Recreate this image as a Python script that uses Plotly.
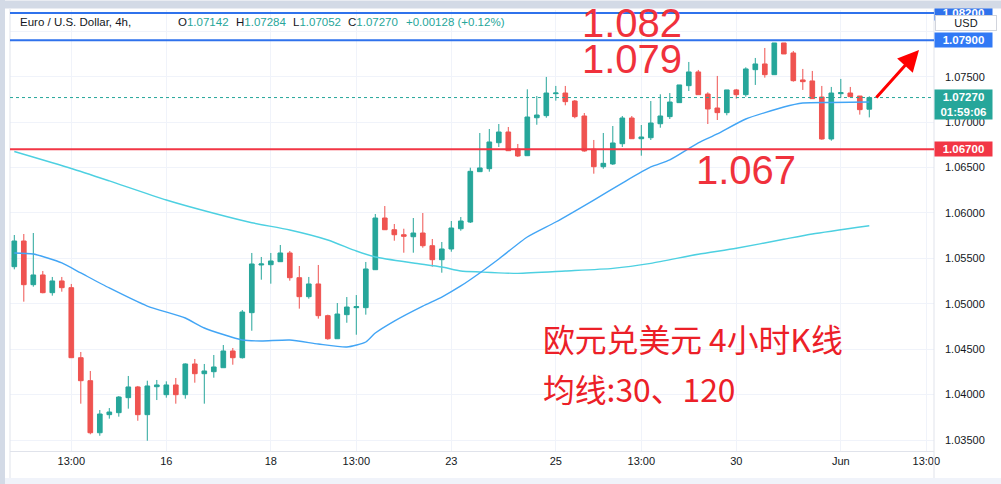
import plotly.graph_objects as go

# ---------------- data ----------------
idx = list(range(91))
opens = [1.05408, 1.05691, 1.05210, 1.05317, 1.05122, 1.05251, 1.05177, 1.04406, 1.04153, 1.03580,
         1.03779, 1.03801, 1.03966, 1.04084, 1.03779, 1.04087, 1.03999, 1.04106, 1.03999, 1.04337,
         1.04230, 1.04252, 1.04296, 1.04480, 1.04406, 1.04902, 1.05427, 1.05430, 1.05463, 1.05559,
         1.05287, 1.05078, 1.05218, 1.04869, 1.04615, 1.04880, 1.04957, 1.04957, 1.05375, 1.05944,
         1.05815, 1.05760, 1.05738, 1.05779, 1.05639, 1.05485, 1.05603, 1.05826, 1.05900, 1.06454,
         1.06487, 1.06773, 1.06891, 1.06704, 1.06630, 1.07048, 1.07071, 1.07313, 1.07320, 1.07232,
         1.07067, 1.06701, 1.06509, 1.06539, 1.06762, 1.07045, 1.06817, 1.06828, 1.06982, 1.07060,
         1.07214, 1.07401, 1.07552, 1.07309, 1.07155, 1.07104, 1.07354, 1.07302, 1.07577, 1.07640,
         1.07522, 1.07871, 1.07761, 1.07464, 1.07453, 1.07276, 1.06814, 1.07313, 1.07320, 1.07287,
         1.07142]
highs = [1.05757, 1.05768, 1.05779, 1.05361, 1.05295, 1.05295, 1.05218, 1.04469, 1.04260, 1.03830,
         1.03852, 1.03984, 1.04205, 1.04095, 1.04153, 1.04161, 1.04146, 1.04183, 1.04344, 1.04392,
         1.04337, 1.04436, 1.04546, 1.04513, 1.04931, 1.05559, 1.05515, 1.05559, 1.05647, 1.05581,
         1.05416, 1.05295, 1.05427, 1.04880, 1.05008, 1.05074, 1.05096, 1.05460, 1.05988, 1.06076,
         1.05878, 1.05826, 1.05944, 1.05999, 1.05713, 1.05680, 1.05911, 1.05955, 1.06498, 1.06880,
         1.06924, 1.06979, 1.06946, 1.06759, 1.07361, 1.07287, 1.07497, 1.07398, 1.07398, 1.07243,
         1.07100, 1.06803, 1.06880, 1.06957, 1.07067, 1.07067, 1.06968, 1.07232, 1.07306, 1.07320,
         1.07409, 1.07662, 1.07574, 1.07328, 1.07508, 1.07354, 1.07365, 1.07603, 1.07706, 1.07816,
         1.07871, 1.07871, 1.07783, 1.07585, 1.07563, 1.07398, 1.07387, 1.07475, 1.07387, 1.07287,
         1.07284]
lows = [1.05379, 1.05023, 1.05188, 1.05115, 1.05089, 1.05133, 1.04403, 1.03900, 1.03563, 1.03547,
        1.03735, 1.03757, 1.03845, 1.03712, 1.03492, 1.03940, 1.03966, 1.03900, 1.03955, 1.04131,
        1.03900, 1.04186, 1.04296, 1.04329, 1.04397, 1.04703, 1.05265, 1.05221, 1.05460, 1.05254,
        1.04946, 1.05056, 1.04836, 1.04604, 1.04612, 1.04791, 1.04659, 1.04880, 1.05372, 1.05812,
        1.05694, 1.05562, 1.05562, 1.05617, 1.05408, 1.05342, 1.05573, 1.05804, 1.05889, 1.06451,
        1.06454, 1.06726, 1.06682, 1.06616, 1.06627, 1.06971, 1.07048, 1.07236, 1.07185, 1.07042,
        1.06674, 1.06432, 1.06487, 1.06528, 1.06726, 1.06814, 1.06630, 1.06803, 1.06938, 1.07034,
        1.07214, 1.07342, 1.07302, 1.06979, 1.07023, 1.07075, 1.07258, 1.07280, 1.07409, 1.07489,
        1.07522, 1.07750, 1.07445, 1.07354, 1.07258, 1.06806, 1.06795, 1.07269, 1.07280, 1.07082,
        1.07052]
closes = [1.05691, 1.05210, 1.05317, 1.05122, 1.05251, 1.05177, 1.04406, 1.04153, 1.03580, 1.03786,
          1.03808, 1.03973, 1.04084, 1.03779, 1.04095, 1.04106, 1.04106, 1.03999, 1.04337, 1.04230,
          1.04260, 1.04304, 1.04480, 1.04406, 1.04909, 1.05438, 1.05438, 1.05471, 1.05559, 1.05287,
          1.05078, 1.05218, 1.04869, 1.04615, 1.04887, 1.04964, 1.04968, 1.05383, 1.05944, 1.05815,
          1.05760, 1.05743, 1.05779, 1.05639, 1.05485, 1.05603, 1.05834, 1.05911, 1.06458, 1.06495,
          1.06781, 1.06891, 1.06685, 1.06627, 1.07056, 1.07078, 1.07320, 1.07320, 1.07225, 1.07060,
          1.06682, 1.06509, 1.06546, 1.06770, 1.07045, 1.06817, 1.06836, 1.06990, 1.07067, 1.07221,
          1.07409, 1.07552, 1.07302, 1.07144, 1.07104, 1.07354, 1.07302, 1.07585, 1.07640, 1.07522,
          1.07871, 1.07750, 1.07456, 1.07445, 1.07258, 1.06814, 1.07320, 1.07324, 1.07280, 1.07137,
          1.07270]

ma30_idx = [0, 2, 5, 7, 10, 14, 18, 20, 24, 26, 29, 32, 35, 37, 38, 40, 43, 45, 47, 49, 51, 54,
            57, 61, 64, 67, 69, 72, 74, 77, 81, 83, 86, 90]
ma30 = [1.05559, 1.05548, 1.05449, 1.05339, 1.05174, 1.04975, 1.04843, 1.04733, 1.04601, 1.04590,
        1.04601, 1.04557, 1.04524, 1.04579, 1.04678, 1.04810, 1.04975, 1.05074, 1.05196, 1.05339,
        1.05493, 1.05735, 1.05900, 1.06142, 1.06329, 1.06506, 1.06583, 1.06770, 1.06869, 1.07034,
        1.07166, 1.07210, 1.07216, 1.07221]
ma120_idx = [0, 6, 10, 16, 21, 25, 29, 33, 36, 38, 42, 45, 47, 49, 53, 58, 63, 67, 72, 76, 81, 84, 90]
ma120 = [1.06676, 1.06489, 1.06352, 1.06142, 1.05996, 1.05892, 1.05812, 1.05702, 1.05581, 1.05515,
         1.05449, 1.05405, 1.05361, 1.05350, 1.05335, 1.05361, 1.05390, 1.05445, 1.05545, 1.05611,
         1.05710, 1.05768, 1.05859]

xtick_idx = [6, 16, 27, 36, 46, 57, 66, 76, 87, 96]
xtick_text = ["13:00", "16", "18", "13:00", "23", "25", "13:00", "30", "Jun", "13:00"]
ytick_vals = [1.035, 1.040, 1.045, 1.050, 1.055, 1.060, 1.065, 1.070, 1.075, 1.080]
ytick_text = ["1.03500", "1.04000", "1.04500", "1.05000", "1.05500", "1.06000", "1.06500",
              "1.07000", "1.07500", ""]

level_top = 1.082
level_res = 1.079
level_sup = 1.067
last_price = 1.07270
ohlc_text = ["1.07142", "1.07284", "1.07052", "1.07270"]
change_text = "+0.00128 (+0.12%)"

# ---------------- layout helpers ----------------
W, H = 1001, 484
ML, MR, MT, MB = 10, 67, 10, 33
PW, PH = W - ML - MR, H - MT - MB


def px(xp):
    return (xp - ML) / PW


def py(yp):
    return (H - MB - yp) / PH


GREEN = "#26a69a"
RED = "#ef5350"
BLUE = "#2f72ec"
LRED = "#f23645"
TXT = "#131722"
GRID = "#f0f3fa"
FONT = "Liberation Sans, Arial, sans-serif"

fig = go.Figure()
fig.add_trace(go.Scatter(x=ma120_idx, y=ma120, mode="lines",
                         line=dict(color="#4dd0e1", width=1.4, shape="spline", smoothing=0.6),
                         hoverinfo="skip"))
fig.add_trace(go.Scatter(x=ma30_idx, y=ma30, mode="lines",
                         line=dict(color="#42a5f5", width=1.4, shape="spline", smoothing=0.6),
                         hoverinfo="skip"))
fig.add_trace(go.Candlestick(
    x=idx, open=opens, high=highs, low=lows, close=closes,
    increasing=dict(line=dict(color=GREEN, width=1), fillcolor=GREEN),
    decreasing=dict(line=dict(color=RED, width=1), fillcolor=RED),
    whiskerwidth=0, hoverinfo="skip"))

shapes = []
# page borders
shapes.append(dict(type="rect", xref="paper", yref="paper", x0=px(0), x1=px(5), y0=py(H), y1=py(0),
                   fillcolor="#d3dae6", line=dict(width=0), layer="above"))
shapes.append(dict(type="rect", xref="paper", yref="paper", x0=px(5), x1=px(W), y0=py(H), y1=py(478),
                   fillcolor="#f0f3fa", line=dict(width=0), layer="above"))
shapes.append(dict(type="line", xref="paper", yref="paper", x0=px(10), x1=px(10), y0=py(478), y1=py(9),
                   line=dict(color="#e0e3eb", width=1)))
shapes.append(dict(type="line", xref="paper", yref="paper", x0=px(934), x1=px(934), y0=py(478), y1=py(9),
                   line=dict(color="#e0e3eb", width=1)))
# horizontal levels
for lv, col in [(level_top, BLUE), (level_res, BLUE), (level_sup, LRED)]:
    shapes.append(dict(type="line", xref="paper", yref="y", x0=0, x1=1, y0=lv, y1=lv,
                       line=dict(color=col, width=2)))
shapes.append(dict(type="line", xref="paper", yref="y", x0=0, x1=1, y0=last_price, y1=last_price,
                   line=dict(color=GREEN, width=1, dash="dot")))

ann = []
# header
ann.append(dict(xref="paper", yref="paper", x=px(18), y=py(22), xanchor="left", yanchor="middle",
                text="Euro / U.S. Dollar, 4h,", showarrow=False, font=dict(family=FONT, size=11.5, color=TXT)))
for lab, val, xp in zip(["O", "H", "L", "C"], ohlc_text, [176, 234, 291, 346]):
    ann.append(dict(xref="paper", yref="paper", x=px(xp), y=py(22), xanchor="left", yanchor="middle",
                    text=f"{lab}<span style='color:{GREEN}'>{val}</span>", showarrow=False,
                    font=dict(family=FONT, size=11.5, color=TXT)))
ann.append(dict(xref="paper", yref="paper", x=px(404), y=py(22), xanchor="left", yanchor="middle",
                text=change_text, showarrow=False, font=dict(family=FONT, size=11.5, color=GREEN)))

# big red level labels
for t, xp, yp in [("1.082", 632, 23), ("1.079", 632, 59), ("1.067", 746, 170)]:
    ann.append(dict(xref="paper", yref="paper", x=px(xp), y=py(yp), xanchor="center", yanchor="middle",
                    text=t, showarrow=False, font=dict(family=FONT, size=40, color="#f0313c")))

# chinese text
ann.append(dict(xref="paper", yref="paper", x=px(541), y=py(338), xanchor="left", yanchor="middle",
                text="欧元兑美元 4小时K线", showarrow=False,
                font=dict(family="Noto Sans CJK SC", size=31.8, color="#ec2028")))
ann.append(dict(xref="paper", yref="paper", x=px(541), y=py(388), xanchor="left", yanchor="middle",
                text="均线:30、120", showarrow=False,
                font=dict(family="Noto Sans CJK SC", size=31.8, color="#ec2028")))

# arrow
ann.append(dict(xref="paper", yref="paper", x=px(919), y=py(50), ax=-44, ay=49, text="",
                showarrow=True, arrowhead=2, arrowsize=1.4, arrowwidth=3, arrowcolor="#ff0000"))

# price axis boxes
ann.append(dict(xref="paper", yref="y", x=px(934), y=level_top, xanchor="left", yanchor="middle",
                text="<b>1.08200</b>", showarrow=False, bgcolor=BLUE, width=55, borderpad=1,
                font=dict(family=FONT, size=11.5, color="white")))
ann.append(dict(xref="paper", yref="paper", x=px(0), y=py(0), xanchor="left", yanchor="top",
                text="", showarrow=False, bgcolor="#d3dae6", width=1001, height=7, borderpad=0))
ann.append(dict(xref="paper", yref="paper", x=px(935), y=py(15), xanchor="left", yanchor="top",
                text="USD", showarrow=False, bgcolor="white", bordercolor="#d1d4dc", borderwidth=1,
                width=58, borderpad=1, font=dict(family=FONT, size=11, color=TXT)))
ann.append(dict(xref="paper", yref="y", x=px(934), y=level_res, xanchor="left", yanchor="middle",
                text="<b>1.07900</b>", showarrow=False, bgcolor="#3179f5", width=55, borderpad=1,
                font=dict(family=FONT, size=11.5, color="white")))
ann.append(dict(xref="paper", yref="paper", x=px(934), y=py(89), xanchor="left", yanchor="top",
                text="<b>1.07270<br>01:59:06</b>", showarrow=False, bgcolor=GREEN, width=55, borderpad=1,
                font=dict(family=FONT, size=11.5, color="white")))
ann.append(dict(xref="paper", yref="y", x=px(934), y=level_sup, xanchor="left", yanchor="middle",
                text="<b>1.06700</b>", showarrow=False, bgcolor=LRED, width=55, borderpad=1,
                font=dict(family=FONT, size=11.5, color="white")))

fig.update_layout(
    width=W, height=H, margin=dict(l=ML, r=MR, t=MT, b=MB, pad=0),
    paper_bgcolor="white", plot_bgcolor="white", showlegend=False, hovermode=False,
    shapes=shapes, annotations=ann,
    xaxis=dict(range=[(10 - 14.3) / 9.5, (934 - 14.3) / 9.5], tickmode="array", tickvals=xtick_idx,
               ticktext=xtick_text, showgrid=True, gridcolor=GRID, gridwidth=1, zeroline=False,
               showline=True, linecolor="#e0e3eb", linewidth=1, ticks="", rangeslider=dict(visible=False),
               tickfont=dict(family=FONT, size=11, color=TXT), fixedrange=True),
    yaxis=dict(range=[1.03379, 1.08234], side="right", tickmode="array", tickvals=ytick_vals,
               ticktext=ytick_text, showgrid=True, gridcolor=GRID, gridwidth=1, zeroline=False,
               showline=False, ticks="", ticklabelstandoff=10,
               tickfont=dict(family=FONT, size=11, color=TXT), fixedrange=True),
)

fig.write_html("out.html", config={"displayModeBar": False},
               post_script="document.body.style.margin='0';document.body.style.overflow='hidden';")
